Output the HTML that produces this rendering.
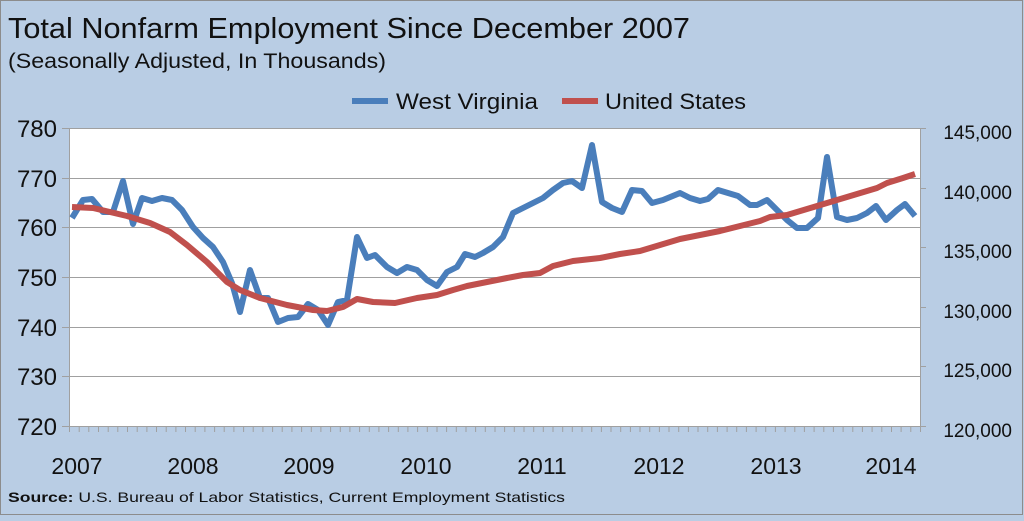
<!DOCTYPE html>
<html><head><style>
html,body{margin:0;padding:0;}
body{width:1024px;height:516px;background:#b9cde4;overflow:hidden;font-family:"Liberation Sans",sans-serif;}
</style></head><body>
<svg width="1024" height="516" xmlns="http://www.w3.org/2000/svg" font-family="Liberation Sans, sans-serif">
<rect x="0.5" y="0.5" width="1022" height="514" fill="#b9cde4" stroke="#8c8c8c"/>
<text x="8" y="38" font-size="29" fill="#111" textLength="682" lengthAdjust="spacingAndGlyphs">Total Nonfarm Employment Since December 2007</text>
<text x="8" y="68" font-size="21" fill="#111" textLength="378" lengthAdjust="spacingAndGlyphs">(Seasonally Adjusted, In Thousands)</text>
<line x1="352" y1="101" x2="388" y2="101" stroke="#4a7ebb" stroke-width="6"/>
<text x="396" y="109" font-size="22" fill="#111" textLength="142" lengthAdjust="spacingAndGlyphs">West Virginia</text>
<line x1="562" y1="101" x2="598" y2="101" stroke="#c0504d" stroke-width="6"/>
<text x="605" y="109" font-size="22" fill="#111" textLength="141" lengthAdjust="spacingAndGlyphs">United States</text>
<rect x="69" y="128" width="851" height="298" fill="#fff"/>
<g stroke="#a0a0a0" stroke-width="1">
<line x1="62" y1="128.5" x2="920" y2="128.5"/>
<line x1="62" y1="178.5" x2="920" y2="178.5"/>
<line x1="62" y1="227.5" x2="920" y2="227.5"/>
<line x1="62" y1="277.5" x2="920" y2="277.5"/>
<line x1="62" y1="327.5" x2="920" y2="327.5"/>
<line x1="62" y1="376.5" x2="920" y2="376.5"/>
<line x1="62" y1="426.5" x2="926" y2="426.5"/>
<line x1="69.5" y1="128" x2="69.5" y2="426"/>
<line x1="920.5" y1="128" x2="920.5" y2="426"/>
<line x1="920" y1="128.5" x2="926" y2="128.5"/>
<line x1="920" y1="188.5" x2="926" y2="188.5"/>
<line x1="920" y1="247.5" x2="926" y2="247.5"/>
<line x1="920" y1="307.5" x2="926" y2="307.5"/>
<line x1="920" y1="366.5" x2="926" y2="366.5"/>
</g>
<g stroke="#a0a0a0" stroke-width="1" id="ticks"></g>
<g font-size="24" fill="#111" text-anchor="end">
<text x="57" y="137">780</text><text x="57" y="187">770</text><text x="57" y="236">760</text>
<text x="57" y="286">750</text><text x="57" y="336">740</text><text x="57" y="385">730</text><text x="57" y="435">720</text>
</g>
<g font-size="19" fill="#111" text-anchor="end">
<text x="1012" y="139">145,000</text><text x="1012" y="199">140,000</text><text x="1012" y="258">135,000</text>
<text x="1012" y="318">130,000</text><text x="1012" y="377">125,000</text><text x="1012" y="437">120,000</text>
</g>
<g font-size="23" fill="#111" text-anchor="middle">
<text x="77" y="474">2007</text><text x="193" y="474">2008</text><text x="309" y="474">2009</text>
<text x="426" y="474">2010</text><text x="542" y="474">2011</text><text x="659" y="474">2012</text>
<text x="776" y="474">2013</text><text x="891" y="474">2014</text>
</g>
<text x="8" y="502" font-size="14" fill="#111" textLength="557" lengthAdjust="spacingAndGlyphs"><tspan font-weight="bold">Source:</tspan> U.S. Bureau of Labor Statistics, Current Employment Statistics</text>
<polyline fill="none" stroke="#4a7ebb" stroke-width="6" stroke-linejoin="round" points="72,218 83,200 92,199 103,212 113,212 123,181 133,224 142,198 152,201 162,198 172,200 182,210 193,227 203,238 213,247 223,262 232,283 240,312 250,270 260,298 268,298 278,322 288,318 298,317 308,304 318,310 328,325 338,302 347,300 357,237 367,258 375,255 387,267 397,273 407,267 417,270 427,280 437,286 447,272 457,267 465,254 475,257 483,253 493,247 503,237 513,213 523,208 533,203 543,198 553,190 563,183 572,181 582,188 592,145 602,202 612,208 622,212 632,190 642,191 652,203 663,200 680,193 690,198 700,201 708,199 718,190 728,193 738,196 750,205 757,205 767,200 777,210 787,220 797,228 807,228 818,218 827,157 837,217 847,220 857,218 867,213 876,206 886,220 897,210 905,204 915,216"/>
<polyline fill="none" stroke="#c0504d" stroke-width="6" stroke-linejoin="round" points="72,207 93,208 110,212 127,216 150,223 170,232 187,245 207,262 227,282 240,290 260,298 287,305 313,310 327,311 343,307 357,299 373,302 395,303 417,298 437,295 453,290 467,286 487,282 507,278 523,275 540,273 553,266 573,261 600,258 620,254 640,251 660,245 680,239 700,235 720,231 740,226 760,221 770,217 787,215 807,209 827,203 847,197 867,191 877,188 887,183 903,178 915,174"/>
</svg>
<script>
var g=document.getElementById('ticks'),s='';
for(var i=0;i<=88;i++){var x=(69.5+i*9.67).toFixed(1);s+='<line x1="'+x+'" y1="426" x2="'+x+'" y2="432"/>';}
g.innerHTML=s;
</script>
</body></html>
